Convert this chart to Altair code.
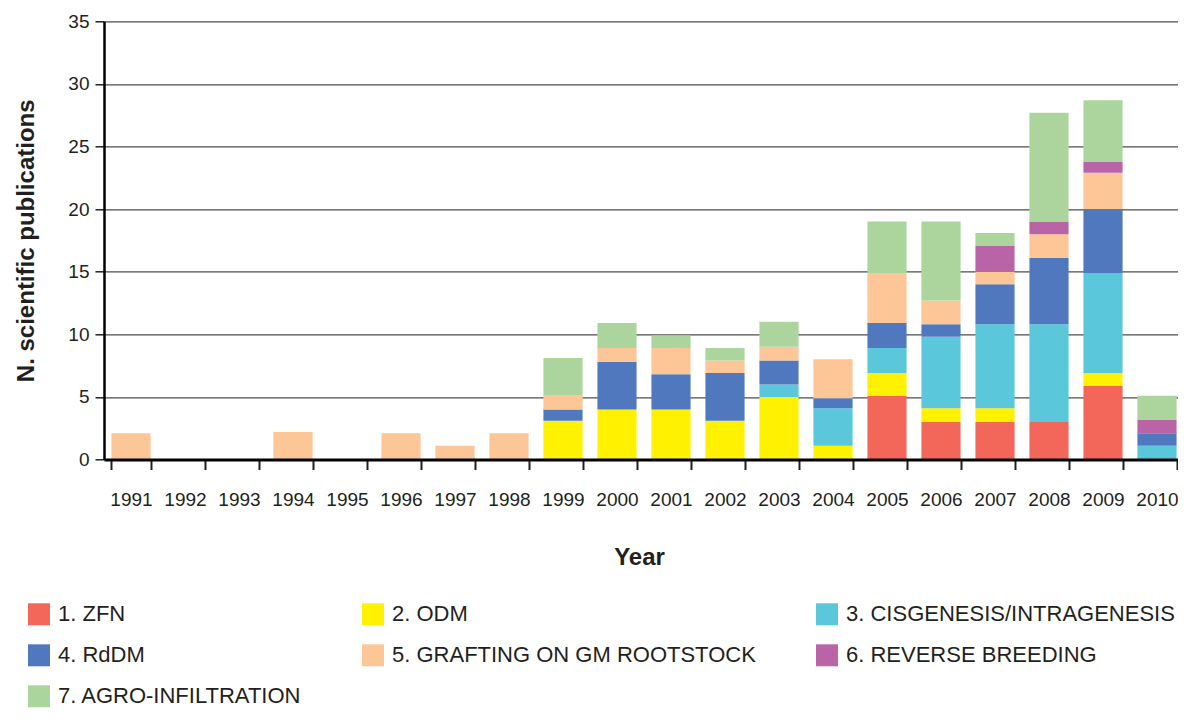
import altair as alt
import pandas as pd

years = [str(y) for y in range(1991, 2011)]
series = ["1. ZFN", "2. ODM", "3. CISGENESIS/INTRAGENESIS", "4. RdDM",
          "5. GRAFTING ON GM ROOTSTOCK", "6. REVERSE BREEDING", "7. AGRO-INFILTRATION"]
colors = ["#F2675A", "#FFF100", "#5AC7DA", "#5078BE", "#FCC696", "#B864A6", "#ACD59E"]

#        1991 92 93 94 95 96 97 98 99  2000 01   02   03   04   05   06   07   08   09   10
zfn   = [0, 0, 0, 0, 0, 0, 0, 0, 0,   0,   0,   0,   0,   0,   5.1, 3.0, 3.0, 3.0, 5.9, 0]
odm   = [0, 0, 0, 0, 0, 0, 0, 0, 3.1, 4.0, 4.0, 3.1, 5.0, 1.1, 1.8, 1.1, 1.1, 0,   1.0, 0]
cis   = [0, 0, 0, 0, 0, 0, 0, 0, 0,   0,   0,   0,   1.0, 3.0, 2.0, 5.7, 6.7, 7.8, 8.0, 1.1]
rddm  = [0, 0, 0, 0, 0, 0, 0, 0, 0.9, 3.8, 2.8, 3.8, 1.9, 0.8, 2.0, 1.0, 3.2, 5.3, 5.1, 1.0]
graft = [2.1, 0, 0, 2.2, 0, 2.1, 1.1, 2.1, 1.1, 1.1, 2.1, 1.0, 1.1, 3.1, 4.0, 1.9, 1.0, 1.9, 2.9, 0]
rev   = [0, 0, 0, 0, 0, 0, 0, 0, 0,   0,   0,   0,   0,   0,   0,   0,   2.1, 1.0, 0.9, 1.1]
agro  = [0, 0, 0, 0, 0, 0, 0, 0, 3.0, 2.0, 1.0, 1.0, 2.0, 0,   4.1, 6.3, 1.0, 8.7, 4.9, 1.9]

y_ticks = [0, 5, 10, 15, 20, 25, 30, 35]

rows = []
for k, (name, vals) in enumerate(zip(series, [zfn, odm, cis, rddm, graft, rev, agro])):
    for yr, v in zip(years, vals):
        if v > 0:
            rows.append({"Year": yr, "Method": name, "Count": v, "k": k})
df = pd.DataFrame(rows)

FONT = "Liberation Sans"
TXT = "#231F20"

chart = alt.Chart(df).mark_bar(strokeWidth=0).encode(
    x=alt.X("Year:N", sort=years,
            scale=alt.Scale(domain=years, range=[0, 1080], paddingInner=0.275, paddingOuter=0.1375),
            axis=alt.Axis(title="Year", labelAngle=0, tickBand="extent",
                          labelFont=FONT, labelFontSize=19, labelColor=TXT, labelPadding=21,
                          tickSize=10, tickWidth=2, tickColor=TXT,
                          domainColor="#000000", domainWidth=3,
                          titleFont=FONT, titleFontSize=24, titleFontWeight="bold", titleColor=TXT,
                          titleX=535, titleY=98, titleBaseline="middle", titleAlign="center",
                          zindex=1)),
    y=alt.Y("Count:Q", stack="zero",
            scale=alt.Scale(domain=[0, 35], nice=False),
            axis=alt.Axis(title="N. scientific publications", values=y_ticks,
                          labelFont=FONT, labelFontSize=19, labelColor=TXT, labelPadding=6,
                          tickSize=9, tickWidth=1.5, tickColor=TXT,
                          domainColor="#000000", domainWidth=2.5,
                          grid=True, gridColor="#4D4D4D", gridWidth=1.2,
                          titleFont=FONT, titleFontSize=24, titleFontWeight="bold", titleColor=TXT,
                          titleX=-78, titleY=219, titleAngle=270, titleAlign="center",
                          titleBaseline="middle")),
    color=alt.Color("Method:N", scale=alt.Scale(domain=series, range=colors),
                    legend=alt.Legend(title=None, orient="none", legendX=-76, legendY=582,
                                      columns=3, direction="horizontal",
                                      symbolType="square", symbolSize=484,
                                      symbolStrokeWidth=0, symbolOpacity=1,
                                      labelFont=FONT, labelFontSize=22, labelColor=TXT,
                                      labelLimit=700, labelOffset=8,
                                      columnPadding=60, rowPadding=19)),
    order=alt.Order("k:Q", sort="ascending"),
).properties(
    width=1074, height=438.2,
    autosize=alt.AutoSizeParams(type="none"),
    padding={"left": 96, "top": 13.3, "right": 0, "bottom": 254},
).configure_view(stroke=None)

chart.save("out.html", embed_options={"renderer": "svg", "actions": False})
